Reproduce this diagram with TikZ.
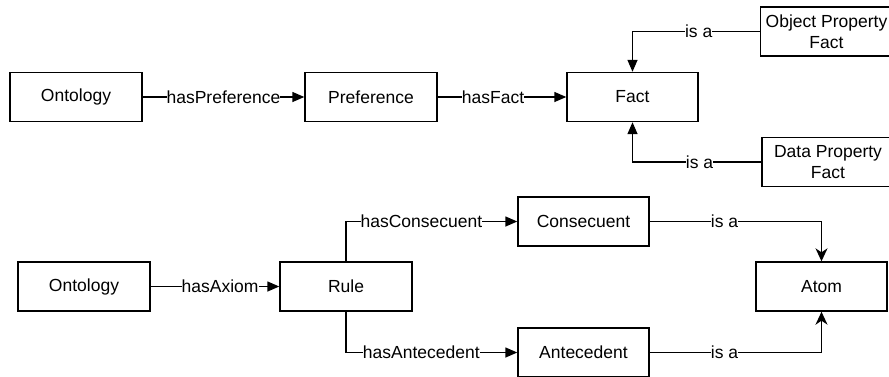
\documentclass[tikz,border=0pt]{standalone}
\usepackage{fontspec}
\setmainfont{Liberation Sans}
\usetikzlibrary{arrows.meta}
\begin{document}
\begin{tikzpicture}[x=1pt,y=-1pt,
  font=\fontsize{17.5}{21}\selectfont,
  box/.style={draw, line width=1.4pt, minimum width=132pt, minimum height=49pt,
    inner sep=0pt, align=center, fill=white},
  rel/.style={line width=1.4pt, -{Triangle[length=12pt,width=10pt]}},
  relc/.style={line width=1.4pt, -{Stealth[length=13pt,width=12pt,inset=4pt]}},
  lbl/.style={fill=white, inner sep=0pt}]
  \useasboundingbox (0,0) rectangle (889,376);

  % preference chain
  \node[box] (onto1) at (76,97) {Ontology};
  \node[box] (pref) at (371,97) {Preference};
  \node[box, minimum width=131pt] (fact) at (632.5,97) {Fact};
  \node[box] (opf) at (826.5,31.5) {Object Property\\Fact};
  \node[box] (dpf) at (828,162) {Data Property\\Fact};

  \draw[rel] (onto1) -- node[lbl] {hasPreference} (pref);
  \draw[rel] (pref) -- node[lbl, pos=0.43] {hasFact} (fact);
  \draw[rel] (opf.west) -| node[lbl, pos=0.24] {is a} (fact.north);
  \draw[rel] (dpf.west) -| node[lbl, pos=0.24] {is a} (fact.south);

  % rule chain
  \node[box] (onto2) at (84,286.5) {Ontology};
  \node[box] (rule) at (346,286.5) {Rule};
  \node[box, minimum width=131pt] (cons) at (583.5,221.5) {Consecuent};
  \node[box, minimum width=131pt] (ante) at (583.5,352.5) {Antecedent};
  \node[box, minimum width=131pt] (atom) at (821.5,286.5) {Atom};

  \draw[rel] (onto2) -- node[lbl, pos=0.54] {hasAxiom} (rule);
  \draw[rel] (rule.north) |- node[lbl, pos=0.72] {hasConsecuent} (cons.west);
  \draw[rel] (rule.south) |- node[lbl, pos=0.72] {hasAntecedent} (ante.west);
  \draw[relc] (cons.east) -| node[lbl, pos=0.218] {is a} (atom.north);
  \draw[relc] (ante.east) -| node[lbl, pos=0.218] {is a} (atom.south);
\end{tikzpicture}
\end{document}
